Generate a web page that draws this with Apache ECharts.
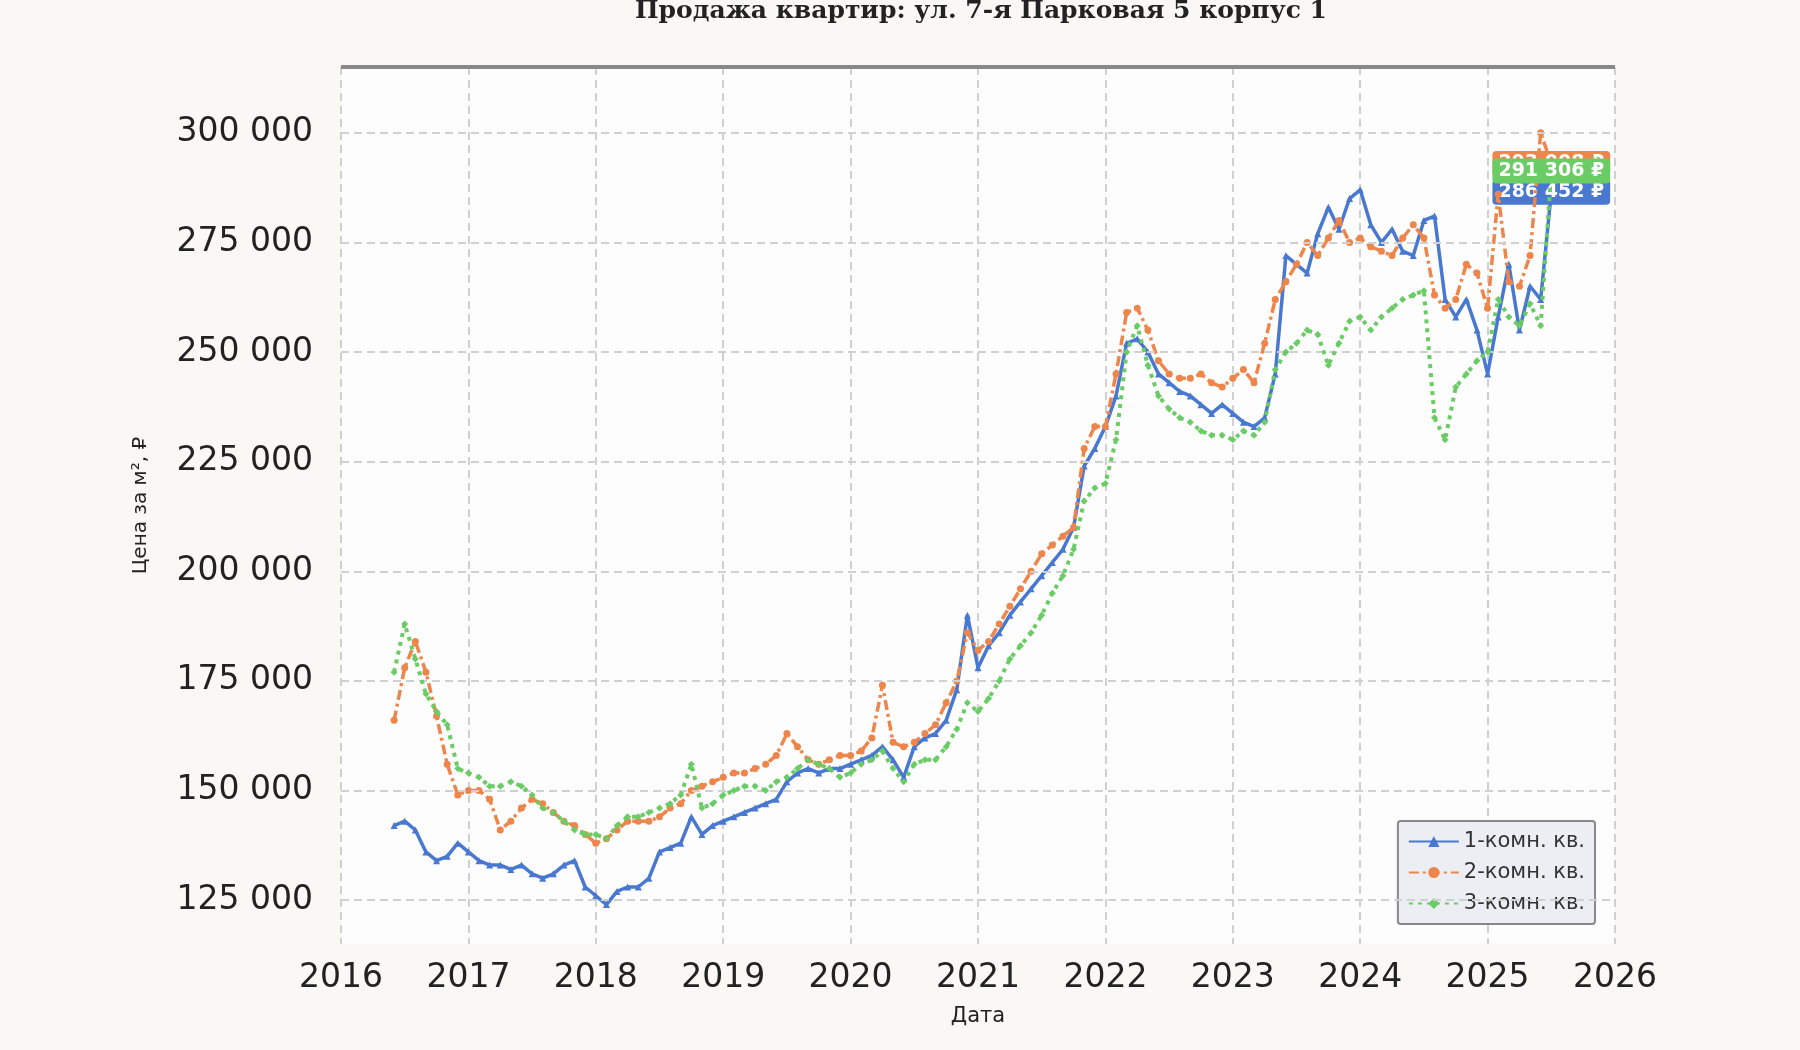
<!DOCTYPE html>
<html><head><meta charset="utf-8">
<script src="https://cdn.jsdelivr.net/npm/echarts@6/dist/echarts.min.js"></script>
<style>html,body{margin:0;padding:0;background:#f9f8f4}#c{width:1800px;height:1050px}</style>
</head><body><div id="c"></div>
<script>
const startYear = 2016, startMonth = 6; // first observation: June 2016
const s1 = [142000,143000,141000,136000,134000,135000,138000,
136000,134000,133000,133000,132000,133000,131000,130000,131000,133000,134000,128000,
126000,124000,127000,128000,128000,130000,136000,137000,138000,144000,140000,142000,
143000,144000,145000,146000,147000,148000,152000,154000,155000,154000,155000,155000,
156000,157000,158000,160000,157000,153000,160000,162000,163000,166000,173000,190000,
178000,183000,186000,190000,193000,196000,199000,202000,205000,210000,224000,228000,
233000,240000,252000,253000,250000,245000,243000,241000,240000,238000,236000,238000,
236000,234000,233000,235000,245000,272000,270000,268000,277000,283000,278000,285000,
287000,279000,275000,278000,273000,272000,280000,281000,262000,258000,262000,255000,
245000,258000,270000,255000,265000,262000,286452];
const s2 = [166000,178000,184000,177000,167000,156000,149000,
150000,150000,148000,141000,143000,146000,148000,147000,145000,143000,142000,140000,
138000,139000,141000,143000,143000,143000,144000,146000,147000,150000,151000,152000,
153000,154000,154000,155000,156000,158000,163000,160000,157000,156000,157000,158000,
158000,159000,162000,174000,161000,160000,161000,163000,165000,170000,175000,186000,
182000,184000,188000,192000,196000,200000,204000,206000,208000,210000,228000,233000,
233000,245000,259000,260000,255000,248000,245000,244000,244000,245000,243000,242000,
244000,246000,243000,252000,262000,266000,270000,275000,272000,276000,280000,275000,
276000,274000,273000,272000,276000,279000,276000,263000,260000,262000,270000,268000,
260000,286000,266000,265000,272000,300000,293008];
const s3 = [177000,188000,180000,172000,168000,165000,155000,
154000,153000,151000,151000,152000,151000,149000,146000,145000,143000,141000,140000,
140000,139000,142000,144000,144000,145000,146000,147000,149000,156000,146000,147000,
149000,150000,151000,151000,150000,152000,153000,155000,157000,156000,155000,153000,
154000,156000,157000,159000,155000,152000,156000,157000,157000,160000,164000,170000,
168000,171000,175000,180000,183000,186000,190000,195000,199000,205000,216000,219000,
220000,230000,250000,256000,247000,240000,237000,235000,234000,232000,231000,231000,
230000,232000,231000,234000,246000,250000,252000,255000,254000,247000,252000,257000,
258000,255000,258000,260000,262000,263000,264000,235000,230000,242000,245000,248000,
250000,262000,258000,256000,261000,256000,291306];
const names = ['1-комн. кв.','2-комн. кв.','3-комн. кв.'];
const colors = ['#4878d0','#ee854a','#6acc64'];
const xTicks = [2016,2017,2018,2019,2020,2021,2022,2023,2024,2025,2026];
const yTicks = [125000,150000,175000,200000,225000,250000,275000,300000];

function toPairs(arr){return arr.map((v,i)=>[startYear+(startMonth-1+i)/12, v]);}
const fmt = v => String(Math.round(v)).replace(/\B(?=(\d{3})+(?!\d))/g,' ');
function mk(arr, idx, type, sym, w){
  const d = toPairs(arr);
  const last = d.length-1;
  d[last] = {value:d[last], label:{show:true, position:'inside', formatter:fmt(arr[last])+' ₽',
    color:'#fff', fontWeight:'bold', fontSize:19, fontFamily:'DejaVu Sans',
    backgroundColor:colors[idx], padding:[3,6], borderRadius:4}};
  return {name:names[idx], type:'line', data:d, symbol:sym, symbolSize:7, showSymbol:true,
    itemStyle:{color:colors[idx]}, lineStyle:{color:colors[idx], width:w, type:type}, z:3+idx};
}
const grid = {type:[8,5], color:'#d0d0d0', width:2};
const chart = echarts.init(document.getElementById('c'));
chart.setOption({
  backgroundColor:'#f9f8f4', animation:false,
  title:{text:'Продажа квартир: ул. 7-я Парковая 5 корпус 1', left:976, textAlign:'center', top:-6,
    textStyle:{fontFamily:'DejaVu Serif', fontWeight:'bold', fontSize:25, color:'#222'}},
  grid:{left:341, right:185, top:67, bottom:106, backgroundColor:'#fdfdfe', show:true, borderWidth:0},
  legend:{right:205, bottom:126, orient:'vertical', backgroundColor:'#eceef4', borderColor:'#888', borderWidth:2,
    borderRadius:3, padding:[10,10], itemGap:10, itemWidth:50, itemHeight:14,
    textStyle:{fontFamily:'DejaVu Sans', fontSize:21, color:'#333'}, data:names},
  xAxis:{type:'value', min:xTicks[0], max:xTicks[xTicks.length-1], interval:1,
    name:'Дата', nameLocation:'middle', nameGap:62, nameTextStyle:{fontFamily:'DejaVu Sans', fontSize:21, color:'#222'},
    axisLine:{show:false}, axisTick:{show:false},
    axisLabel:{fontFamily:'DejaVu Sans', fontSize:33, color:'#222', margin:18, formatter:v=>String(v)},
    splitLine:{lineStyle:grid}},
  yAxis:{type:'value', min:115000, max:315000, interval:5000,
    name:'Цена за м², ₽', nameLocation:'middle', nameGap:190, nameTextStyle:{fontFamily:'DejaVu Sans', fontSize:20, color:'#222'},
    axisLine:{show:false}, axisTick:{show:false},
    axisLabel:{fontFamily:'DejaVu Sans', fontSize:33, color:'#222', margin:28,
      formatter:v=> yTicks.includes(v) ? fmt(v) : ''},
    splitLine:{show:false}},
  series:[
    {type:'line', data:[], silent:true, z:1,
     markLine:{silent:true, symbol:'none', label:{show:false}, lineStyle:grid,
       data:yTicks.map(v=>({yAxis:v}))}},
    mk(s1,0,'solid','triangle',3.5),
    mk(s2,1,[10,4,3,4],'circle',3.5),
    mk(s3,2,[4,5],'diamond',4),
    {type:'line', data:[[2016,315000],[2026,315000]], symbol:'none', silent:true,
     lineStyle:{color:'#888', width:4}, z:10, clip:false}
  ]
});
</script></body></html>
